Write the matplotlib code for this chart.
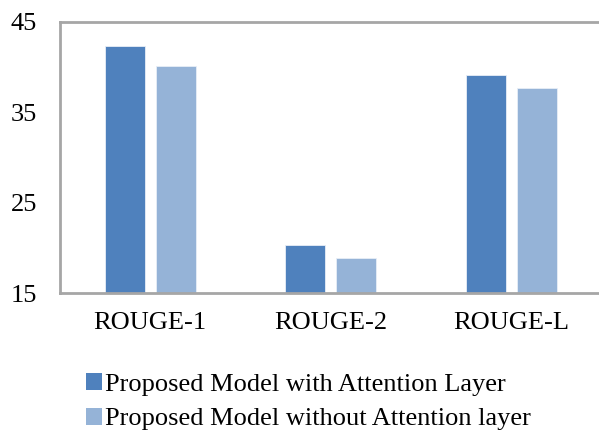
import numpy as np
import matplotlib.pyplot as plt
from matplotlib.patches import Patch

# ROUGE scores for the two model variants
metricas = ['ROUGE-1', 'ROUGE-2', 'ROUGE-L']
con_atencion = [42.3, 20.3, 39.1]
sin_atencion = [40.1, 18.9, 37.7]
series = ['Proposed Model with Attention Layer', 'Proposed Model without Attention layer']

COLOR_CON = '#4F81BD'
COLOR_SIN = '#95B3D7'
GRIS = '#A6A6A6'

plt.rcParams['font.family'] = ['Liberation Serif', 'DejaVu Serif']

fig = plt.figure(figsize=(5.99, 4.32), dpi=100)
# el eje se extiende un poco fuera de la figura por la derecha
ax = fig.add_axes([60 / 599, 1 - 293 / 432, 541.5 / 599, 271 / 432])

x = np.arange(len(metricas))
ancho = 0.222
desp = 0.141
ax.bar(x - desp, con_atencion, ancho, color=COLOR_CON, edgecolor='#E8EEF7', linewidth=0.6)
ax.bar(x + desp, sin_atencion, ancho, color=COLOR_SIN, edgecolor='#E8EEF7', linewidth=0.6)

ax.set_xlim(-0.5, 2.5)
ax.set_ylim(15, 45)
ax.set_yticks([15, 25, 35, 45])
ax.set_xticks(x)
ax.set_xticklabels(metricas)
ax.tick_params(axis='both', length=0, labelsize=19, colors='black')
ax.tick_params(axis='x', pad=14)
ax.tick_params(axis='y', pad=16.5)

for lado in ['left', 'top', 'bottom', 'right']:
    ax.spines[lado].set_color(GRIS)
    ax.spines[lado].set_linewidth(2)

handles = [Patch(facecolor=COLOR_CON), Patch(facecolor=COLOR_SIN)]
fig.legend(handles, series, loc='upper left', bbox_to_anchor=(73 / 599, 1 - 360 / 432),
           frameon=False, fontsize=19, handlelength=0.6, handleheight=0.6,
           handletextpad=0.12, labelspacing=0.45, borderpad=0)

fig.savefig('out.png', dpi=100)
